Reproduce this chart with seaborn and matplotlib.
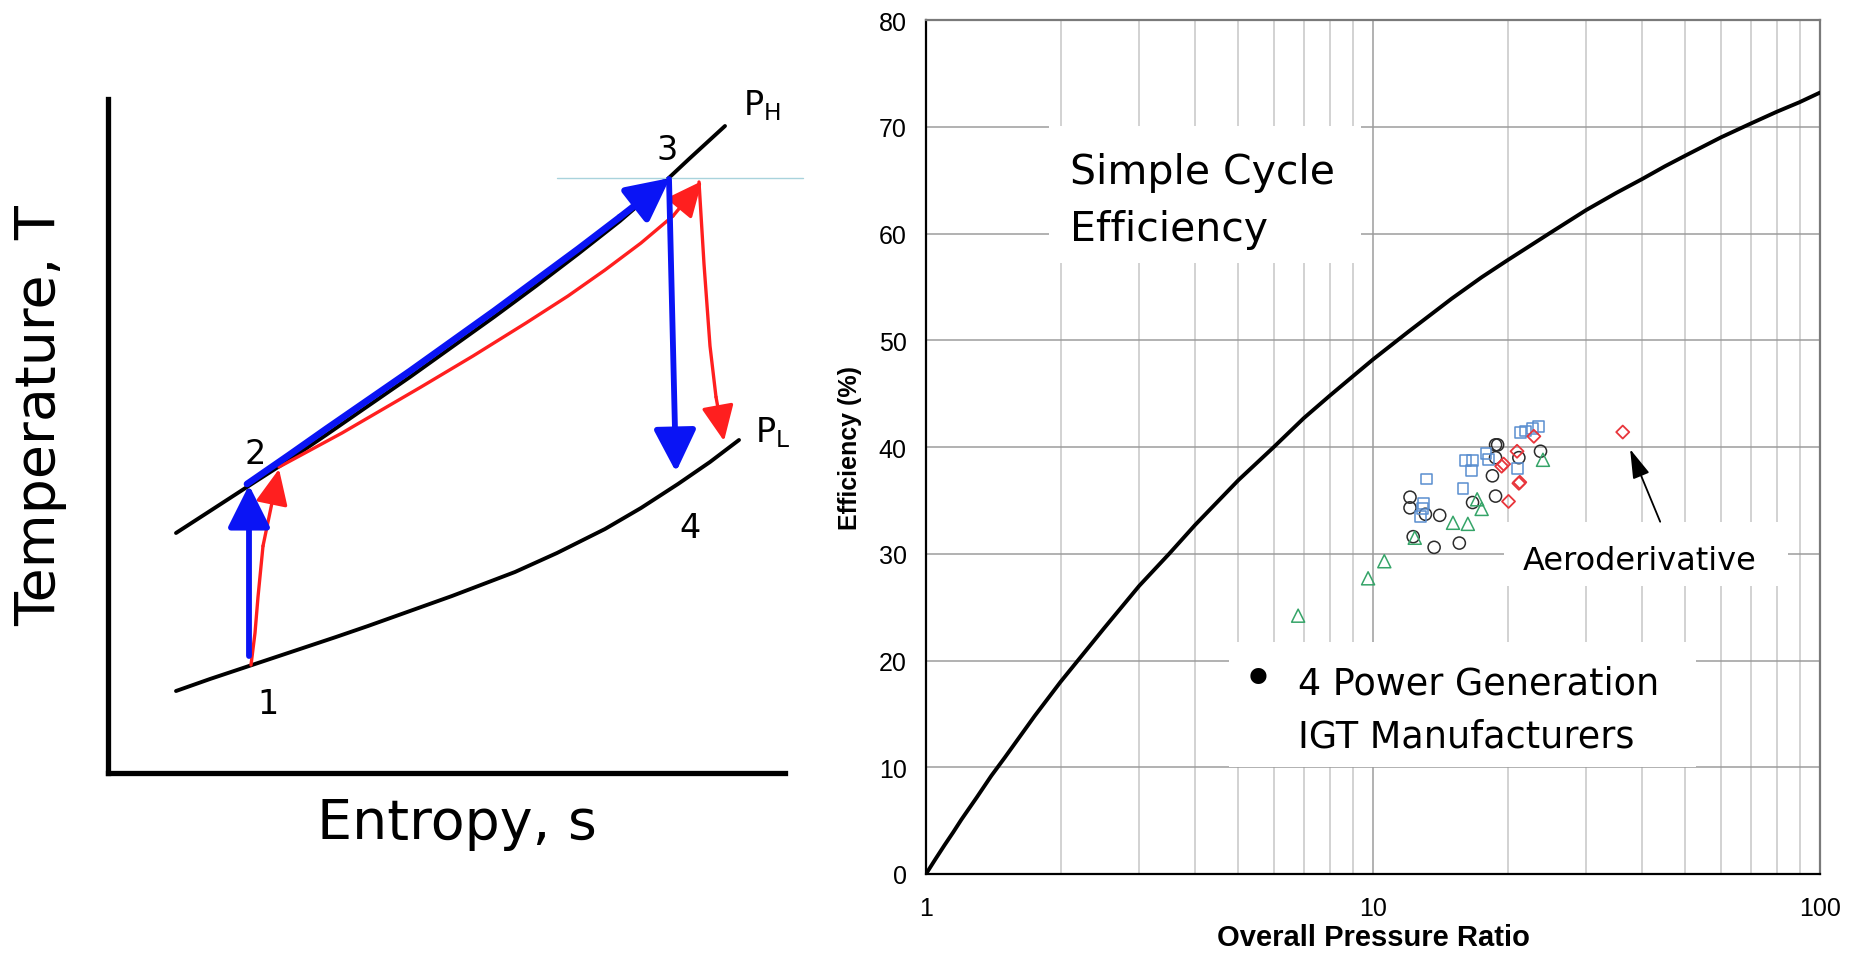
import numpy as np
import pandas as pd
import matplotlib
matplotlib.use("Agg")
import matplotlib.pyplot as plt
from matplotlib.patches import Rectangle
from matplotlib.ticker import FixedLocator, NullFormatter, FixedFormatter
import seaborn as sns

# ---- right panel: simple cycle efficiency vs pressure ratio ----
pr_curve = [1.0, 1.05, 1.1, 1.15, 1.2, 1.3, 1.4, 1.5, 1.75, 2, 2.5, 3, 3.5, 4, 5,
            6, 7, 8, 9, 10, 12, 15, 17.5, 20, 25, 30, 35, 40, 45, 50, 60, 70,
            80, 90, 100]
eff_curve = [0, 1.4, 2.7, 3.9, 5.1, 7.2, 9.2, 10.9, 14.8, 18.0, 23.0, 27.0, 30.0,
             32.7, 36.9, 40.0, 42.7, 44.8, 46.6, 48.2, 50.8, 53.9, 55.9, 57.5,
             60.1, 62.2, 63.8, 65.1, 66.3, 67.3, 69.0, 70.3, 71.4, 72.3, 73.2]

circle_pr = [12.1, 12.1, 13.1, 14.1, 12.3, 13.7, 15.6, 16.7, 18.5, 18.8, 18.8,
             18.8, 19.0, 21.2, 23.7]
circle_eff = [35.3, 34.3, 33.7, 33.6, 31.6, 30.6, 31.0, 34.8, 37.3, 35.4, 39.0,
              40.2, 40.2, 39.0, 39.6]
square_pr = [13.2, 13.0, 12.8, 12.9, 15.9, 16.1, 16.7, 16.6, 17.9, 18.1, 21.0,
             21.4, 21.9, 22.7, 23.4]
square_eff = [37.0, 34.7, 33.5, 34.2, 36.1, 38.7, 38.7, 37.8, 39.4, 38.8, 38.0,
              41.4, 41.5, 41.7, 41.9]
triangle_pr = [6.8, 9.75, 10.6, 12.4, 15.1, 16.3, 17.1, 17.5, 24.0]
triangle_eff = [24.2, 27.7, 29.3, 31.5, 32.9, 32.8, 35.1, 34.2, 38.8]
diamond_pr = [22.9, 21.0, 19.4, 19.6, 21.2, 21.3, 20.1, 36.2]
diamond_eff = [41.0, 39.6, 38.2, 38.4, 36.6, 36.7, 34.9, 41.4]

x_ticks = [1, 10, 100]
y_ticks = [0, 10, 20, 30, 40, 50, 60, 70, 80]

# ---- left panel: T-s diagram (schematic units) ----
pl_s = [68, 102, 144, 186, 228, 260, 302, 344, 407, 449, 497, 533, 570, 602, 631]
pl_T = [82, 94, 108, 122, 136, 147, 162, 177, 201, 220, 244, 265, 289, 311, 333]
ph_s = [68, 102, 139, 181, 218, 260, 302, 344, 386, 428, 470, 512, 549, 581, 617]
ph_T = [240, 262, 286, 313, 338, 367, 396, 426, 456, 487, 519, 552, 584, 614, 647]

blue_12_s = [141, 141]
blue_12_T = [117, 288]
blue_23_s = [139, 181, 218, 260, 302, 344, 386, 428, 470, 512, 562]
blue_23_T = [289, 318, 344, 373, 402, 432, 462, 493, 524, 556, 595]
blue_34_s = [561, 568]
blue_34_T = [594, 301]

red_12_s = [143, 147, 150, 155, 171]
red_12_T = [108, 140, 176, 227, 304]
red_23_s = [171, 234, 313, 365, 418, 460, 497, 533, 565, 594]
red_23_T = [306, 340, 386, 417, 450, 477, 503, 530, 557, 592]
red_34_s = [591, 596, 602, 608, 616]
red_34_T = [591, 509, 427, 376, 332]

t3_line_s = [449, 695]
t3_line_T = [595, 595]

state_labels = ["1", "2", "3", "4"]
state_s = [160, 147, 559, 582]
state_T = [70, 319, 623, 245]

W, H = 1857, 954
fig = plt.figure(figsize=(W / 100, H / 100), dpi=100)
sns.set_style("white")
plt.rcParams["font.family"] = ["DejaVu Sans"]
plt.rcParams["text.color"] = "black"
plt.rcParams["axes.labelcolor"] = "black"
plt.rcParams["xtick.color"] = "black"
plt.rcParams["ytick.color"] = "black"

BLUE = "#0a14f5"
RED = "#ff1f1f"


def arrow_path(ax, s, T, color, lw, head_len, head_w, scale=20):
    if len(s) > 2:
        sns.lineplot(x=s[:-1], y=T[:-1], ax=ax, color=color, lw=lw,
                     sort=False, estimator=None)
    ax.annotate("", xy=(s[-1], T[-1]), xytext=(s[-2], T[-2]),
                arrowprops=dict(arrowstyle=f"-|>,head_length={head_len},head_width={head_w}",
                                color=color, lw=lw, shrinkA=0, shrinkB=0,
                                mutation_scale=scale))


# left axes
axl = fig.add_axes([108 / W, 1 - 774 / H, (785 - 108) / W, (774 - 100) / H])
axl.set_xlim(0, 677)
axl.set_ylim(0, 674)
for sp in ["top", "right"]:
    axl.spines[sp].set_visible(False)
for sp in ["left", "bottom"]:
    axl.spines[sp].set_color("black")
    axl.spines[sp].set_linewidth(3.8)
axl.set_xticks([])
axl.set_yticks([])

sns.lineplot(x=pl_s, y=pl_T, ax=axl, color="black", lw=2.8, sort=False, estimator=None)
sns.lineplot(x=ph_s, y=ph_T, ax=axl, color="black", lw=2.8, sort=False, estimator=None)
axl.plot(t3_line_s, t3_line_T, color="#a9d3dc", lw=1.0, clip_on=False)

arrow_path(axl, red_12_s, red_12_T, RED, 2.4, 1.1, 0.5)
arrow_path(axl, red_23_s, red_23_T, RED, 2.4, 1.1, 0.5)
arrow_path(axl, red_34_s, red_34_T, RED, 2.4, 1.1, 0.5)
arrow_path(axl, blue_12_s, blue_12_T, BLUE, 4.2, 1.3, 0.65)
arrow_path(axl, blue_23_s, blue_23_T, BLUE, 4.8, 1.3, 0.65)
arrow_path(axl, blue_34_s, blue_34_T, BLUE, 4.2, 1.3, 0.65)

for lab, s, t in zip(state_labels, state_s, state_T):
    axl.text(s, t, lab, fontsize=24, ha="center", va="center")
axl.text(654, 668, r"P$_\mathregular{H}$", fontsize=24, ha="center", va="center", clip_on=False)
axl.text(665, 341, r"P$_\mathregular{L}$", fontsize=24, ha="center", va="center", clip_on=False)

fig.text(40 / W, 1 - 416 / H, "Temperature, T", fontsize=40, rotation=90,
         ha="center", va="center")
fig.text(457 / W, 1 - 824 / H, "Entropy, s", fontsize=40, ha="center", va="center")

# right axes
axr = fig.add_axes([926 / W, 1 - 875 / H, (1820 - 926) / W, (875 - 21) / H])
axr.set_xscale("log")
axr.set_xlim(1, 100)
axr.set_ylim(0, 80)

axr.xaxis.set_major_locator(FixedLocator(x_ticks))
axr.xaxis.set_major_formatter(FixedFormatter([str(v) for v in x_ticks]))
axr.xaxis.set_minor_locator(FixedLocator([m * d for d in (1, 10) for m in range(2, 10)]))
axr.xaxis.set_minor_formatter(NullFormatter())
axr.yaxis.set_major_locator(FixedLocator(y_ticks))
axr.yaxis.set_minor_locator(FixedLocator(np.arange(0, 81, 2)))

axr.grid(which="major", color="#9c9c9c", lw=1.1, zorder=0)
axr.grid(which="minor", axis="x", color="#c6c6c6", lw=1.1, zorder=0)
axr.set_axisbelow(True)

axr.tick_params(which="major", direction="in", length=8, width=1.2, color="black",
                labelsize=18, pad=14)
axr.tick_params(which="minor", direction="in", length=5, width=1.0, color="black")
for lbl in axr.get_xticklabels() + axr.get_yticklabels():
    lbl.set_fontfamily("Liberation Sans")
axr.tick_params(axis="x", which="major", pad=16)

for sp in ["left", "bottom"]:
    axr.spines[sp].set_color("black")
    axr.spines[sp].set_linewidth(1.6)
for sp in ["top", "right"]:
    axr.spines[sp].set_color("#7a7a7a")
    axr.spines[sp].set_linewidth(1.6)

# white label boxes over the grid
for (x0, y0, x1, y1) in [(0.1376, 0.7155, 0.4866, 0.8759),
                         (0.3389, 0.1253, 0.8613, 0.2717),
                         (0.6465, 0.3372, 0.9642, 0.4122)]:
    axr.add_patch(Rectangle((x0, y0), x1 - x0, y1 - y0, transform=axr.transAxes,
                            facecolor="white", edgecolor="none", zorder=1))

sns.lineplot(x=pr_curve, y=eff_curve, ax=axr, color="black", lw=2.8, zorder=3)

sns.scatterplot(x=circle_pr, y=circle_eff, ax=axr, marker="o", s=76,
                color="#2b2b2b", facecolor="none", edgecolor="#2b2b2b", linewidth=1.1, zorder=4)
sns.scatterplot(x=square_pr, y=square_eff, ax=axr, marker="s", s=62,
                color="#5a8ed0", facecolor="none", edgecolor="#5a8ed0", linewidth=1.1, zorder=4)
sns.scatterplot(x=triangle_pr, y=triangle_eff, ax=axr, marker="^", s=88,
                color="#35a468", facecolor="none", edgecolor="#35a468", linewidth=1.1, zorder=4)
sns.scatterplot(x=diamond_pr, y=diamond_eff, ax=axr, marker="D", s=44,
                color="#e8353b", facecolor="none", edgecolor="#e8353b", linewidth=1.3, zorder=4)

axr.text(0.161, 0.845, "Simple Cycle\nEfficiency", transform=axr.transAxes,
         fontsize=29.5, ha="left", va="top", linespacing=1.55, zorder=5)
axr.text(0.371, 0.2084, "\u2022", transform=axr.transAxes, fontsize=40,
         ha="center", va="baseline", zorder=5)
axr.text(0.416, 0.245, "4 Power Generation\nIGT Manufacturers", transform=axr.transAxes,
         fontsize=26.3, ha="left", va="top", linespacing=1.55, zorder=5)
axr.text(0.668, 0.357, "Aeroderivative", transform=axr.transAxes,
         fontsize=23, ha="left", va="baseline", zorder=5)
axr.annotate("", xy=(37.6, 39.8), xytext=(43.9, 33.0),
             arrowprops=dict(arrowstyle="-|>,head_length=1.0,head_width=0.3",
                             color="black", lw=1.3, shrinkA=0, shrinkB=0,
                             mutation_scale=18), zorder=5)

axr.set_xlabel("Overall Pressure Ratio", fontsize=21, fontweight="bold",
               fontfamily="Liberation Sans", labelpad=2)
axr.set_ylabel("Efficiency (%)", fontsize=18, fontweight="bold",
               fontfamily="Liberation Sans", labelpad=12)

fig.savefig("out.png", dpi=100)
